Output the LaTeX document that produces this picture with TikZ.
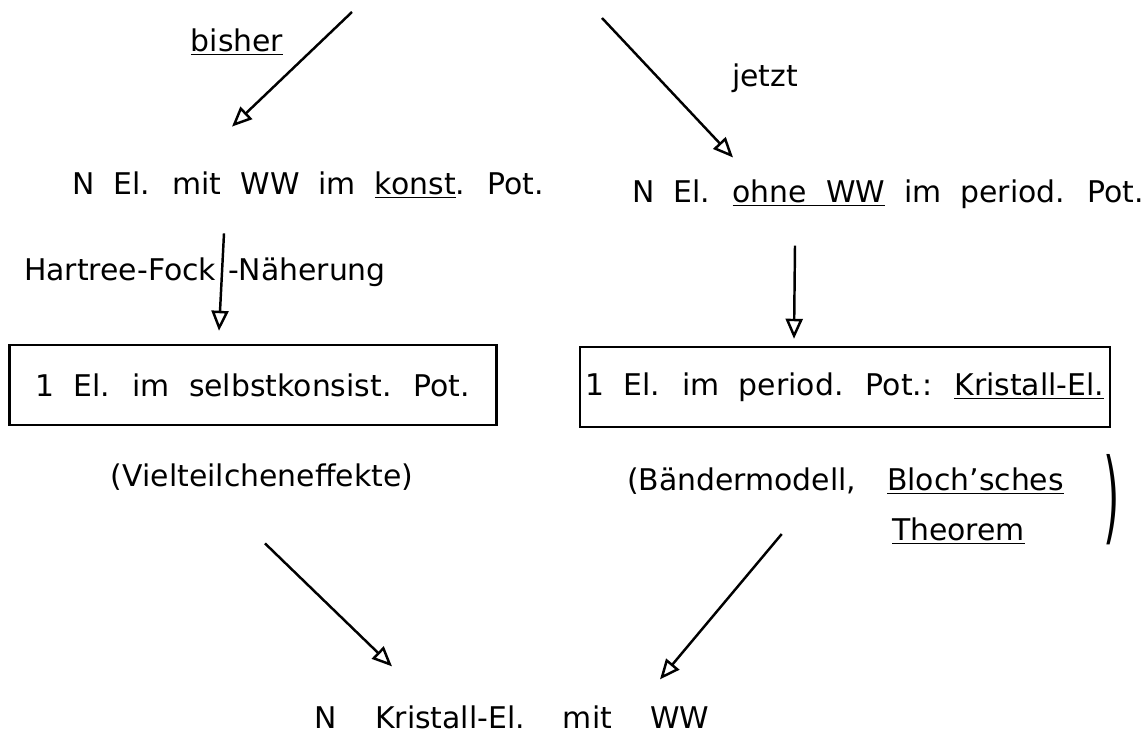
\documentclass[tikz,border=0pt]{standalone}
\usepackage{fontspec}
\setmainfont{DejaVu Sans}[WordSpace=2]
\usepackage{graphicx}
\usepackage{tikz}
\usetikzlibrary{arrows.meta, positioning}
\newcommand{\notiz}{\fontsize{17}{20}\selectfont}

\begin{document}
\begin{tikzpicture}[x=0.02cm, y=-0.02cm, line width=1.4pt,
    >={Triangle[open, length=4mm, width=3.4mm]},
    every node/.style={font=\notiz},
    kasten/.style={draw, line width=1.4pt, minimum height=1.6cm}]

  \useasboundingbox (0, 0) rectangle (1146, 737);

  % oben: bisher / jetzt
  \coordinate (bisherStart) at (352, 12);
  \coordinate (jetztStart) at (602, 18);
  \node[] (bisher) at (237, 42) {\underline{bisher}};
  \node[] (jetzt) at (765, 78) {jetzt};

  \node[] (konst) at (308, 185) {N El. mit WW im \underline{konst}. Pot.};
  \node[] (period) at (888, 194) {N El. \underline{ohne WW} im period. Pot.};

  \draw [->] (bisherStart) -- ([shift={(-76, -38)}]konst.north);
  \draw [->] (jetztStart) -- ([shift={(-155, -15)}]period.north);

  % mitte: Kaesten
  \node[kasten, minimum width=9.74cm] (box1) at (253, 385) {1 El. im selbstkonsist. Pot.};
  \node[kasten, minimum width=10.6cm] (box2) at (845, 387) {1 El. im period. Pot.: \underline{Kristall-El.}};

  \node[] (hf) at (205, 272) {Hartree-Fock\hspace{0.4em}-Näherung};
  \draw [->] ([shift={(-84, 28)}]konst.south) -- ([shift={(-34, -13)}]box1.north);
  \draw [->] ([shift={(-93, 30)}]period.south) -- ([shift={(-51, -7)}]box2.north);

  \node[] (viel) at (262, 477) {(Vielteilcheneffekte)};
  \node[anchor=base west] (baender) at (620, 490) {(Bändermodell,};
  \node[anchor=base west] (bloch) at (880, 490) {\underline{Bloch'sches}};
  \node[anchor=base west] (theorem) at (885, 540) {\underline{Theorem}};
  \node[] (klammer) at (1112, 500) {\scalebox{1.4}[3.4]{)}};

  % unten
  \node[] (ziel) at (512, 717) {N~~Kristall-El.~~mit~~WW};
  \draw [->] ([shift={(3, 46)}]viel.south) -- ([shift={(-120, -32)}]ziel.north);
  \draw [->] ([shift={(40, 33)}]baender.south) -- ([shift={(148, -19)}]ziel.north);

\end{tikzpicture}
\end{document}
